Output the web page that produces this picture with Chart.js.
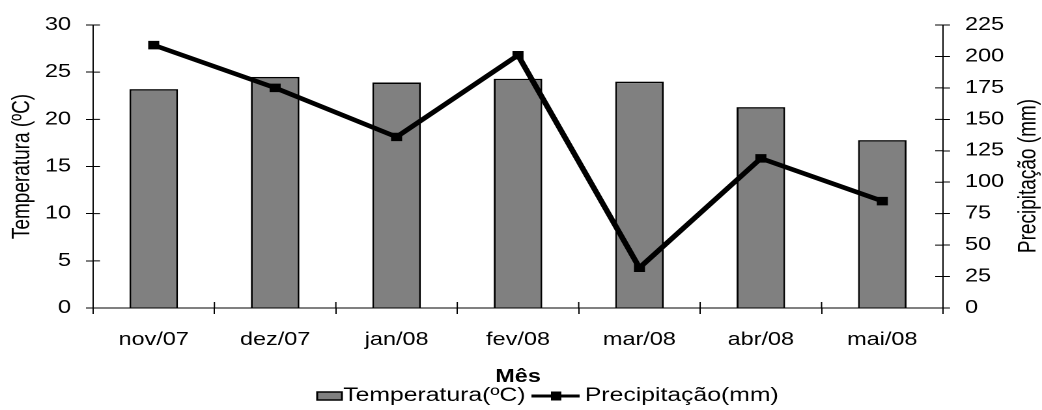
<!DOCTYPE html>
<html lang="pt">
<head>
    <meta charset="UTF-8">
    <title>Temperatura e Precipitação</title>
    <script src="https://cdn.jsdelivr.net/npm/chart.js"></script>
    <style>
        body { margin: 0; background: #fff; overflow: hidden; }
        /* o grafico original foi esticado na horizontal (800 -> 1042) */
        .wrap {
            width: 800px;
            height: 410px;
            transform: scaleX(1.3025);
            transform-origin: 0 0;
        }
    </style>
</head>
<body>
    <div class="wrap"><canvas id="grafico"></canvas></div>

    <script>
        // Dados
        const meses = ['nov/07', 'dez/07', 'jan/08', 'fev/08', 'mar/08', 'abr/08', 'mai/08'];
        const temperatura = [23.2, 24.5, 23.9, 24.3, 24.0, 21.3, 17.8];
        const precipitacao = [209, 175, 136, 201, 32, 119, 85];

        const fonte = 'Liberation Sans, Arial, sans-serif';

        // ticks que cruzam o eixo + titulo do eixo direito + legenda
        const extras = {
            id: 'extras',
            afterDraw(chart) {
                const ctx = chart.ctx;
                const area = chart.chartArea;
                const sx = chart.scales.x, sy = chart.scales.y, sy1 = chart.scales.y1;
                ctx.save();
                ctx.strokeStyle = '#000';
                ctx.lineWidth = 1;
                ctx.beginPath();
                sy.ticks.forEach(t => {
                    const p = sy.getPixelForValue(t.value);
                    ctx.moveTo(area.left, p); ctx.lineTo(area.left + 5.4, p);
                });
                sy1.ticks.forEach(t => {
                    const p = sy1.getPixelForValue(t.value);
                    ctx.moveTo(area.right - 6, p); ctx.lineTo(area.right, p);
                });
                for (let i = 1; i < meses.length; i++) {
                    const p = (sx.getPixelForTick(i - 1) + sx.getPixelForTick(i)) / 2;
                    ctx.moveTo(p, area.bottom - 6); ctx.lineTo(p, area.bottom);
                }
                ctx.stroke();

                // titulo do eixo direito (lido de baixo para cima)
                ctx.fillStyle = '#000';
                ctx.font = '19px ' + fonte;
                ctx.textAlign = 'center';
                ctx.textBaseline = 'middle';
                ctx.translate(790, 176);
                ctx.rotate(-Math.PI / 2);
                ctx.fillText('Precipitação (mm)', 0, 0);
                ctx.restore();

                // legenda
                ctx.save();
                ctx.font = '19px ' + fonte;
                ctx.textBaseline = 'middle';
                const ly = 396;
                let lx = 243.5;
                ctx.fillStyle = '#808080';
                ctx.fillRect(lx, ly - 4, 19, 8);
                ctx.strokeStyle = '#000';
                ctx.lineWidth = 1.5;
                ctx.strokeRect(lx, ly - 4, 19, 8);
                ctx.fillStyle = '#000';
                ctx.fillText(chart.data.datasets[0].label, lx + 20, ly);
                lx = 408;
                ctx.lineWidth = 3;
                ctx.beginPath();
                ctx.moveTo(lx, ly); ctx.lineTo(lx + 37, ly);
                ctx.stroke();
                ctx.fillRect(lx + 15, ly - 4.5, 8, 9);
                ctx.fillText(chart.data.datasets[1].label, lx + 41, ly);
                ctx.restore();
            }
        };

        const ctx = document.getElementById('grafico').getContext('2d');
        new Chart(ctx, {
            data: {
                labels: meses,
                datasets: [{
                    type: 'bar',
                    label: 'Temperatura(ºC)',
                    data: temperatura,
                    yAxisID: 'y',
                    backgroundColor: '#808080',
                    borderColor: '#000',
                    borderWidth: 1.5,
                    barPercentage: 0.4,
                    categoryPercentage: 1,
                    order: 1
                }, {
                    type: 'line',
                    label: 'Precipitação(mm)',
                    data: precipitacao,
                    yAxisID: 'y1',
                    borderColor: '#000',
                    backgroundColor: '#000',
                    borderWidth: 4.5,
                    tension: 0,
                    pointStyle: 'rect',
                    pointRadius: 6,
                    pointBackgroundColor: '#000',
                    pointBorderWidth: 0,
                    order: 0
                }]
            },
            options: {
                responsive: true,
                maintainAspectRatio: false,
                animation: false,
                devicePixelRatio: 2,
                layout: { padding: { top: 25, left: 0, right: 0, bottom: 0 } },
                plugins: {
                    legend: { display: false },
                    tooltip: { enabled: false }
                },
                scales: {
                    x: {
                        grid: { drawOnChartArea: false, color: '#000', tickLength: 6, offset: true },
                        border: { color: '#000', width: 1 },
                        ticks: { color: '#000', font: { family: fonte, size: 18 }, padding: 15, maxRotation: 0 },
                        title: { display: true, text: 'Mês', color: '#000', font: { family: fonte, size: 18, weight: 'bold' }, padding: { top: 4, bottom: 22 } },
                        afterFit(scale) { scale.height = 102; }
                    },
                    y: {
                        position: 'left',
                        min: 0, max: 30,
                        ticks: { stepSize: 5, color: '#000', font: { family: fonte, size: 18 }, padding: 11.5 },
                        grid: { drawOnChartArea: false, color: '#000', tickLength: 5.4 },
                        border: { color: '#000', width: 1 },
                        title: { display: true, text: 'Temperatura (ºC)', color: '#000', font: { family: fonte, size: 19 }, padding: { top: 6, bottom: 4 } },
                        afterFit(scale) { scale.width = 71.4; }
                    },
                    y1: {
                        position: 'right',
                        min: 0, max: 225,
                        ticks: { stepSize: 25, color: '#000', font: { family: fonte, size: 18 }, padding: 11.5 },
                        grid: { drawOnChartArea: false, color: '#000', tickLength: 5.4 },
                        border: { color: '#000', width: 1 },
                        afterFit(scale) { scale.width = 76; }
                    }
                }
            },
            plugins: [extras]
        });
    </script>
</body>
</html>
